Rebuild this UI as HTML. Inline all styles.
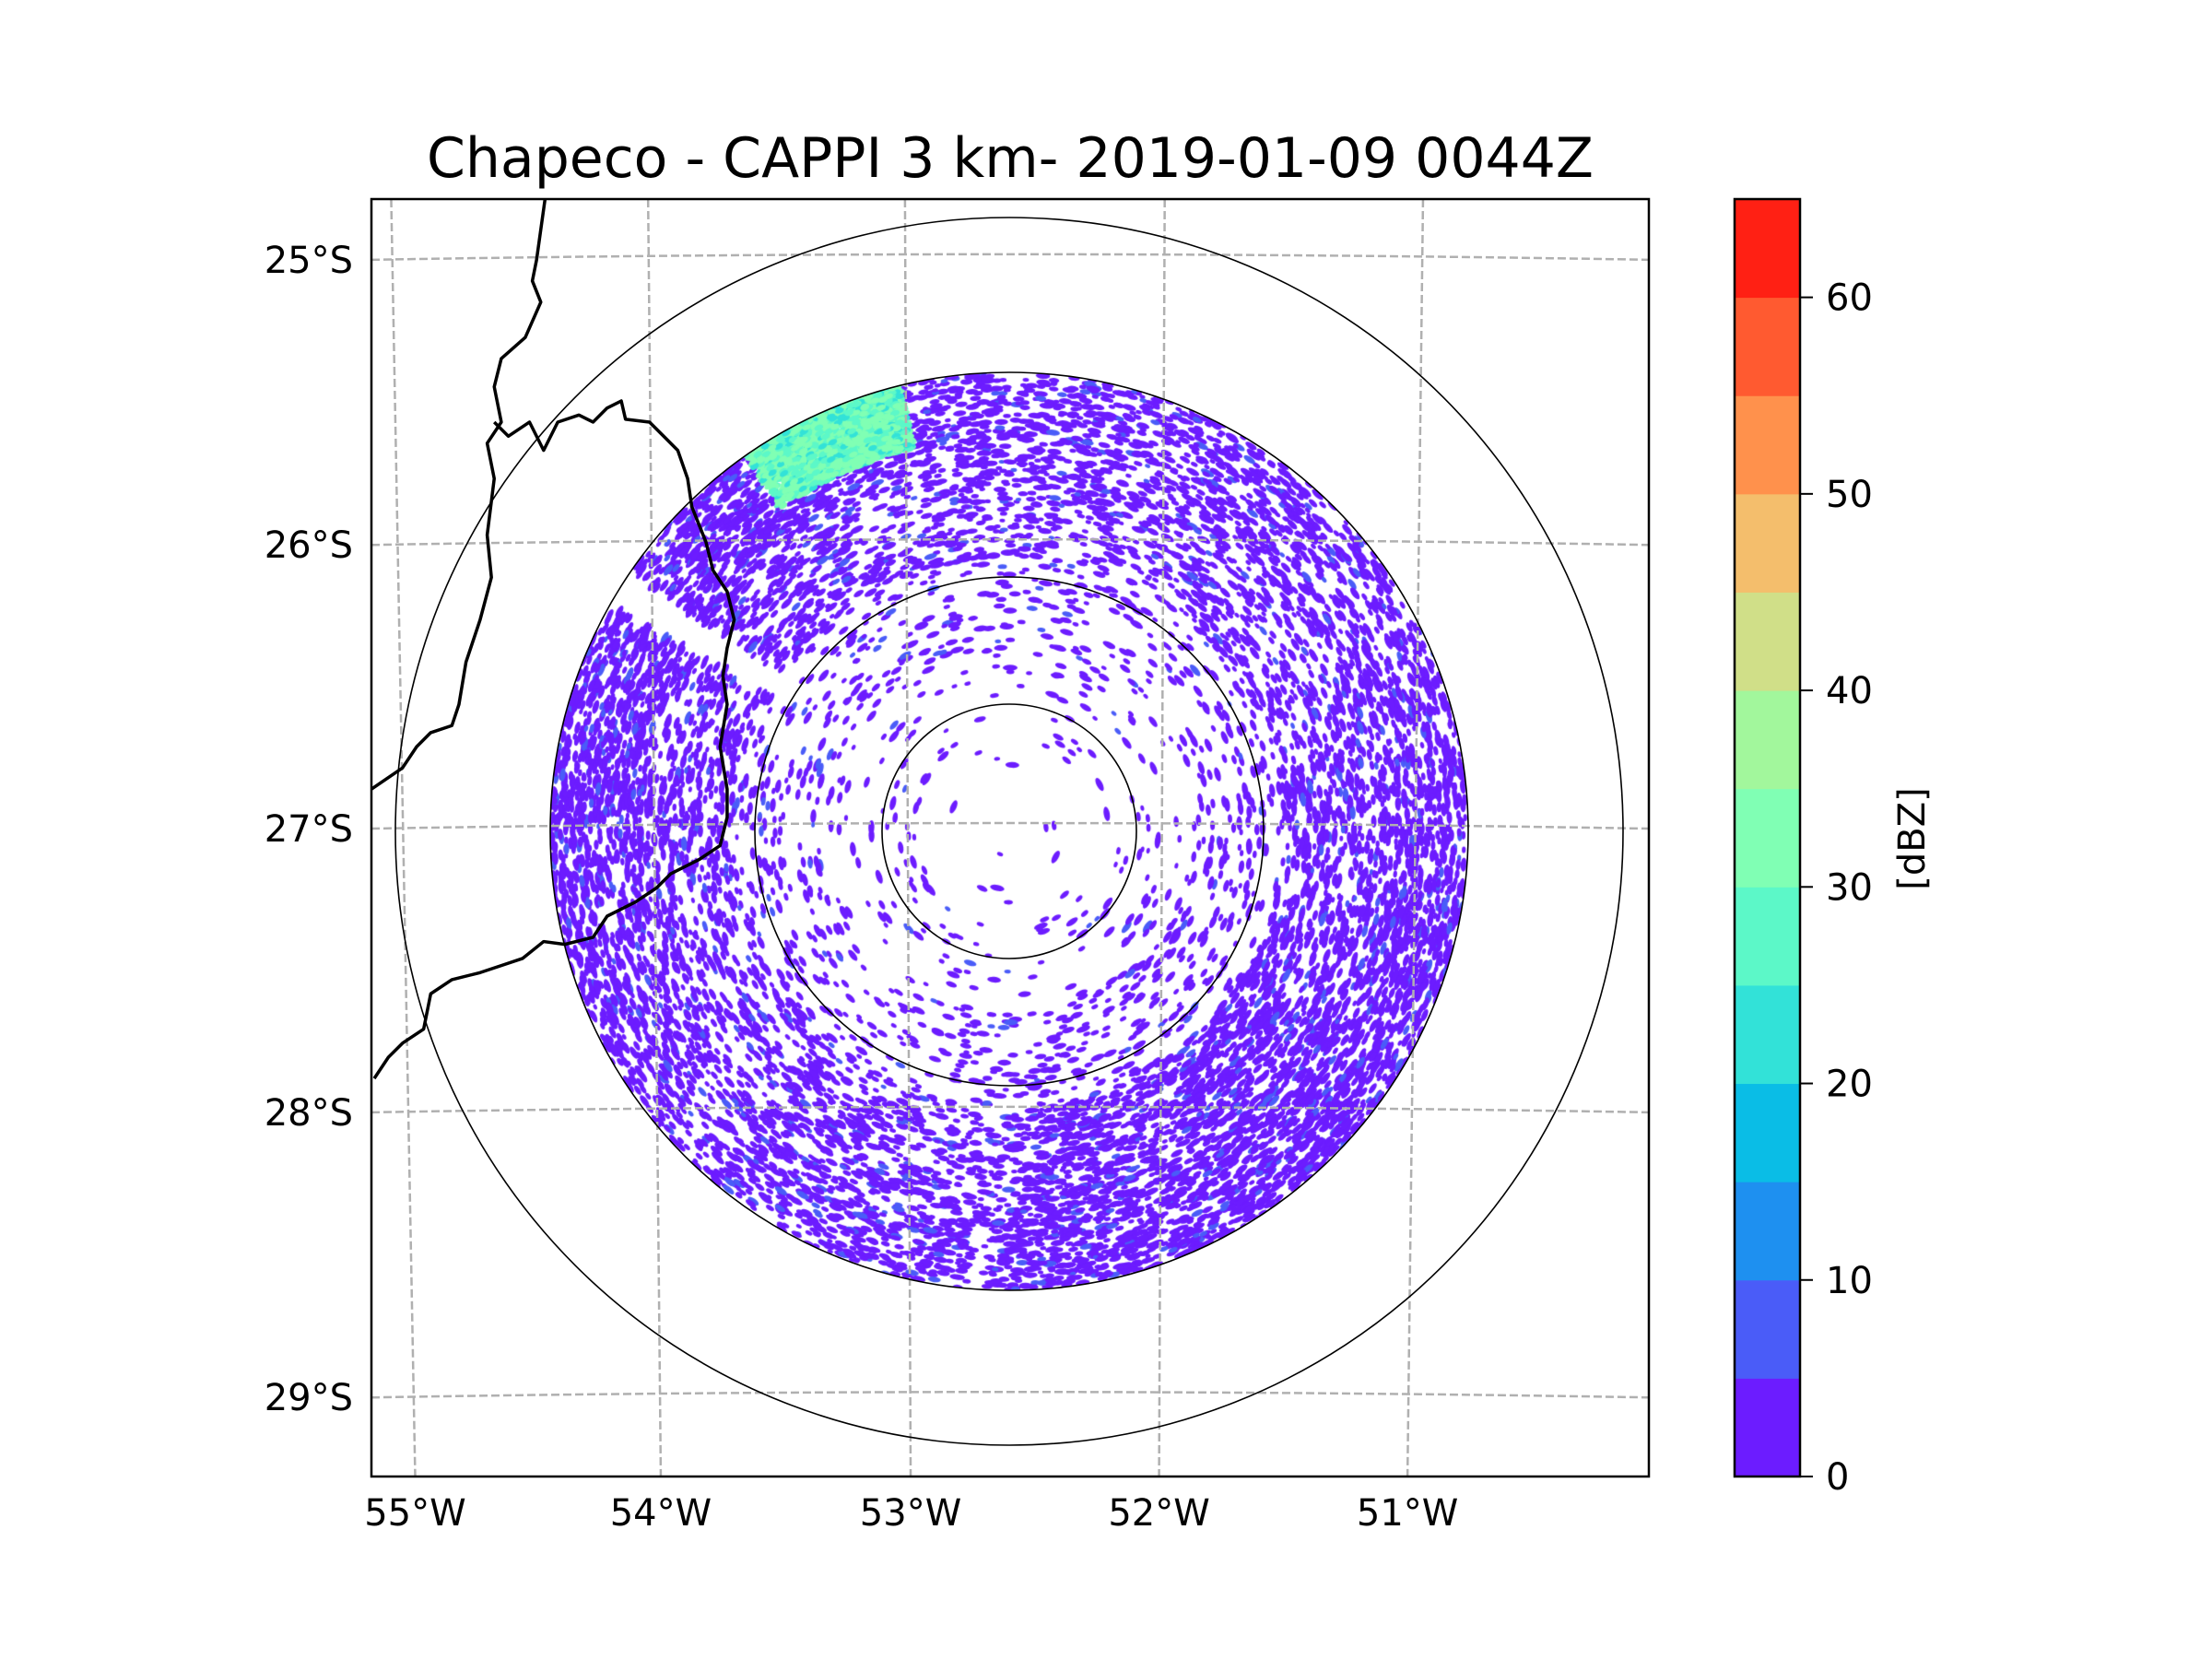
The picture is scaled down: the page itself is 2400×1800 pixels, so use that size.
<!DOCTYPE html>
<html><head><meta charset="utf-8"><style>
html,body{margin:0;padding:0;background:#fff;}
#wrap{position:relative;width:2400px;height:1800px;overflow:hidden;font-family:"DejaVu Sans","Liberation Sans",sans-serif;}
canvas,svg{position:absolute;left:0;top:0;}
</style></head><body>
<div id="wrap">
<canvas id="cv" width="2400" height="1800"></canvas>
<svg id="sv" width="2400" height="1800" xmlns="http://www.w3.org/2000/svg">
<text x="1096" y="192" font-size="60" text-anchor="middle" font-family="DejaVu Sans, Liberation Sans, sans-serif">Chapeco - CAPPI 3 km- 2019-01-09 0044Z</text>
<g id="grid"></g>
<g id="geo"></g>
<g id="rings"></g>
<rect x="403" y="216" width="1386" height="1386" fill="none" stroke="#000" stroke-width="2.5"/>
<g id="ticks" font-size="40" font-family="DejaVu Sans, Liberation Sans, sans-serif"></g>
<g id="cbar"></g>
<text transform="translate(2088,910) rotate(-90)" font-size="40" text-anchor="middle" font-family="DejaVu Sans, Liberation Sans, sans-serif">[dBZ]</text>
</svg>
</div>
<script>
// ---- data ----
const latLabels = ["25°S","26°S","27°S","28°S","29°S"];
const latDisplayY = [185,387,588,789,991];
const lonLabels = ["55°W","54°W","53°W","52°W","51°W"];
const lonTopX = [277,459,641,825,1008];
const lonBotX = [294,468,645,821,997];
const cbarLevels = [0,5,10,15,20,25,30,35,40,45,50,55,60,65];
const cbarColors = ["#6c1cff","#4a5cf8","#1e90f0","#0abde6","#32e2d8","#5cf8c8","#80ffb4","#a2f79c","#d0df88","#f4be6c","#ff914c","#ff5a30","#ff2014"];
const cbarTicks = [0,10,20,30,40,50,60];
// echo density by azimuth sector (30° from north, clockwise) x range bin (fraction of max range)
const densityRows = [
 [0.01,0.05,0.15,0.40,0.55],
 [0.01,0.05,0.15,0.40,0.55],
 [0.01,0.05,0.15,0.45,0.65],
 [0.01,0.05,0.17,0.55,0.75],
 [0.01,0.06,0.22,0.85,0.95],
 [0.01,0.06,0.20,0.70,0.85],
 [0.01,0.05,0.15,0.40,0.55],
 [0.01,0.05,0.14,0.40,0.50],
 [0.01,0.05,0.15,0.45,0.65],
 [0.01,0.05,0.15,0.50,0.80],
 [0.01,0.05,0.17,0.55,0.85],
 [0.01,0.05,0.15,0.45,0.60]
];
const border1 = [[386,142],[380,185],[377,200],[383,215],[372,240],[355,255],[350,275],[355,300],[345,315],[350,340],[345,380],[348,410],[340,440],[330,470],[325,500],[320,515],[305,520],[295,530],[285,545],[263,560]];
const border2 = [[350,300],[360,310],[375,300],[385,320],[395,300],[410,295],[420,300],[430,290],[440,285],[443,298],[460,300],[470,310],[480,320],[487,340],[490,360],[500,385],[505,405],[515,420],[520,440],[515,460],[512,480],[515,500],[510,530],[515,560],[515,580],[510,600],[495,610],[475,620],[465,630],[450,640],[430,650],[420,665],[400,670],[385,668],[370,680],[355,685],[340,690],[320,695],[305,705],[300,730],[285,740],[275,750],[265,765]];

// ---- geometry ----
const SC=1.5315, AX=403, AY=216, AW=1386, AH=1386;
const mx = x => AX+(x-263)*SC, my = y => AY+(y-142)*SC;
const CX=1095, CY=902, RMAX=498;
const NS="http://www.w3.org/2000/svg";
function mk(tag, attrs, parent){const e=document.createElementNS(NS,tag);for(const k in attrs)e.setAttribute(k,attrs[k]);parent.appendChild(e);return e;}

const grid=document.getElementById('grid');
latDisplayY.forEach((y,i)=>{
  const Y=my(y);
  const p=mk('path',{d:`M${AX} ${Y} Q${AX+AW/2} ${Y-12} ${AX+AW} ${Y}`,fill:'none',stroke:'#b0b0b0','stroke-width':2.5,'stroke-dasharray':'9,4'},grid);
  
  
});
lonTopX.forEach((x,i)=>{
  const l=mk('line',{x1:mx(x),y1:AY,x2:mx(lonBotX[i]),y2:AY+AH,stroke:'#b0b0b0','stroke-width':2.5,'stroke-dasharray':'9,4'},grid);
  
  
});
const geo=document.getElementById('geo');
[border1,border2].forEach(b=>{
  const p=mk('polyline',{points:b.map(q=>mx(q[0])+','+my(q[1])).join(' '),fill:'none',stroke:'#000','stroke-width':3.5,'stroke-linejoin':'round'},geo);
  
  
});
const rings=document.getElementById('rings');
[666,RMAX,276,138].forEach(r=>{
  const c=mk('circle',{cx:CX,cy:CY,r:r,fill:'none',stroke:'#000','stroke-width':1.6},rings);
  
  
});
const ticks=document.getElementById('ticks');
latLabels.forEach((t,i)=>{
  const e=mk('text',{x:383,y:my(latDisplayY[i])+14,'text-anchor':'end'},ticks);e.textContent=t;
  
  
});
lonLabels.forEach((t,i)=>{
  const e=mk('text',{x:mx(lonBotX[i]),y:1655,'text-anchor':'middle'},ticks);e.textContent=t;
  
  
});
const cb=document.getElementById('cbar');
const CBX=1882,CBW=71,CBT=216,CBB=1602;
const cy = v => CBB-(v-cbarLevels[0])/(cbarLevels[cbarLevels.length-1]-cbarLevels[0])*(CBB-CBT);
cbarColors.forEach((c,i)=>{
  const r=mk('rect',{x:CBX,y:cy(cbarLevels[i+1]),width:CBW,height:cy(cbarLevels[i])-cy(cbarLevels[i+1])+0.5,fill:c},cb);
  
  
});
mk('rect',{x:CBX,y:CBT,width:CBW,height:CBB-CBT,fill:'none',stroke:'#000','stroke-width':2.5},cb);
cbarTicks.forEach(v=>{
  mk('line',{x1:CBX+CBW,x2:CBX+CBW+14,y1:cy(v),y2:cy(v),stroke:'#000','stroke-width':2},cb);
  const t=mk('text',{x:CBX+CBW+28,y:cy(v)+14,'font-size':40},cb);t.textContent=String(v);
  
  
});

// ---- radar speckle field ----
const ctx=document.getElementById('cv').getContext('2d');
let seed=12345;
function rnd(){seed|=0;seed=(seed+0x6D2B79F5)|0;let t=Math.imul(seed^(seed>>>15),1|seed);t=(t+Math.imul(t^(t>>>7),61|t))^t;return ((t^(t>>>14))>>>0)/4294967296;}
ctx.save();ctx.beginPath();ctx.arc(CX,CY,RMAX,0,Math.PI*2);ctx.clip();
const N=28000;
for(let i=0;i<N;i++){
  const u=rnd(),v=rnd(),w=rnd(),s=rnd(),c=rnd();
  const rf=Math.sqrt(u), az=v*360;
  const ai=Math.floor(az/30)%densityRows.length;
  const ri=Math.min(4,Math.floor(rf*5));
  let d=densityRows[ai][ri];
  if(az>299.5&&az<304.5&&rf>0.55) d=0;
  if(w>d) continue;
  const r=rf*RMAX, th=az*Math.PI/180;
  const x=CX+r*Math.sin(th), y=CY-r*Math.cos(th);
  let col=c<0.92?'#6c1cff':'#4a5cf8';
  if(az>325&&az<346&&rf>0.86){col=c<0.5?'#80ffb4':(c<0.8?'#5cf8c8':'#32e2d8');}
  ctx.fillStyle=col;
  ctx.beginPath();
  ctx.ellipse(x,y,3+s*5,2+s*1.3,th,0,Math.PI*2);
  ctx.fill();
}
for(let i=0;i<2500;i++){
  const az=325+rnd()*21, rf=0.86+rnd()*0.14, c=rnd();
  const r=rf*RMAX, th=az*Math.PI/180;
  const edge=(az-325)/21;
  if(rnd()>(0.3+0.7*edge)) continue;
  ctx.fillStyle=c<0.55?'#80ffb4':(c<0.85?'#5cf8c8':'#32e2d8');
  ctx.beginPath();ctx.ellipse(CX+r*Math.sin(th),CY-r*Math.cos(th),5,3,th,0,Math.PI*2);ctx.fill();
}
ctx.restore();
</script>
</body></html>
